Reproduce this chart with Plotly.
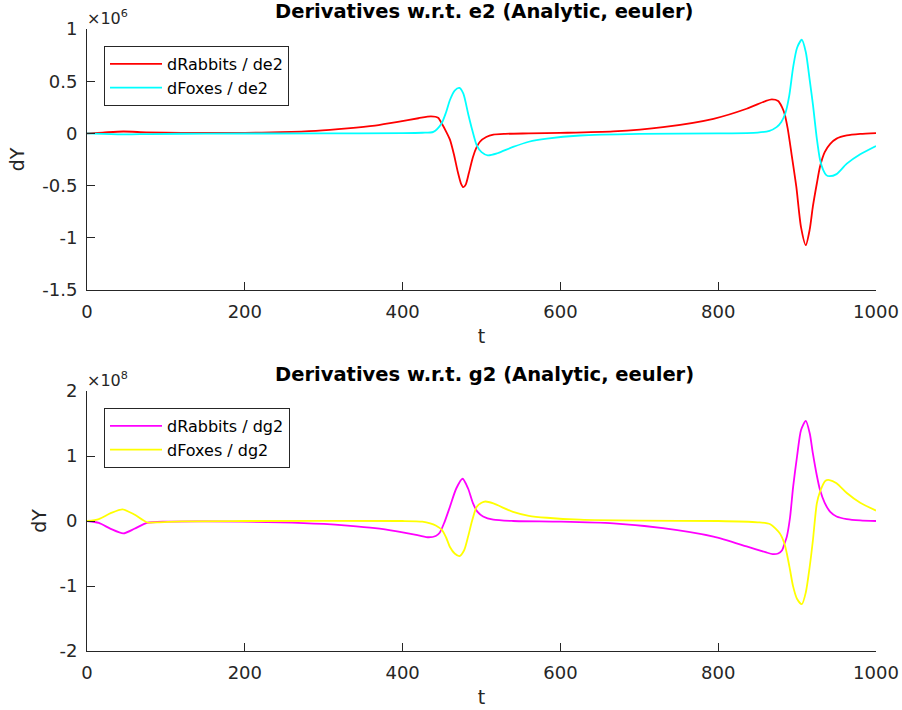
import plotly.graph_objects as go

# ---------------- data ----------------
# Top panel: derivatives w.r.t. e2, values in units of 1e6
t_rab_e2 = [0, 20, 46, 75, 120, 200, 245, 290, 330, 365, 394, 420, 436, 445, 450, 455, 460, 465, 470, 474,
            477, 480, 484, 489, 494, 498, 506, 515, 530, 560, 600, 667, 730, 794, 836, 860, 868, 876, 881,
            884, 888, 893, 899, 905, 911, 916, 920, 925, 929, 935, 942, 950, 963, 980, 1000]
v_rab_e2 = [0, 0.008, 0.018, 0.01, 0.004, 0.005, 0.012, 0.025, 0.048, 0.075, 0.11, 0.145, 0.163, 0.15, 0.09,
            0.02, -0.06, -0.2, -0.37, -0.48, -0.515, -0.49, -0.38, -0.23, -0.13, -0.08, -0.035, -0.012,
            -0.004, 0.0, 0.005, 0.019, 0.06, 0.14, 0.236, 0.31, 0.326, 0.31, 0.25, 0.19, 0.05, -0.2, -0.51,
            -0.9, -1.07, -0.92, -0.7, -0.48, -0.32, -0.18, -0.1, -0.05, -0.02, -0.005, 0.003]

t_fox_e2 = [0, 20, 50, 80, 150, 300, 400, 425, 439, 449, 455, 460, 466, 472, 477, 483, 488, 494, 500, 508,
            520, 540, 560, 583, 625, 700, 800, 850, 865, 874, 880, 885, 890, 895, 900, 906, 911, 916, 920,
            925, 929, 933, 937, 941, 950, 963, 980, 1000]
v_fox_e2 = [0, -0.005, -0.01, -0.006, -0.002, 0.0, 0.002, 0.006, 0.015, 0.09, 0.2, 0.32, 0.41, 0.435, 0.38,
            0.19, 0.04, -0.115, -0.18, -0.21, -0.19, -0.13, -0.08, -0.05, -0.02, -0.005, 0.0, 0.008, 0.025,
            0.06, 0.11, 0.19, 0.36, 0.635, 0.82, 0.897, 0.78, 0.51, 0.28, -0.05, -0.25, -0.35, -0.4, -0.41,
            -0.39, -0.29, -0.2, -0.12]

# Bottom panel: derivatives w.r.t. g2, values in units of 1e8
t_rab_g2 = [0, 15, 30, 46, 60, 76, 100, 150, 245, 300, 330, 365, 393, 420, 433, 442, 447, 453, 460, 468,
            476, 483, 489, 495, 502, 515, 540, 600, 667, 730, 794, 836, 860, 869, 876, 881, 884, 887, 891,
            895, 900, 905, 911, 916, 920, 925, 929, 935, 942, 950, 963, 980, 1000]
v_rab_g2 = [0, -0.03, -0.12, -0.19, -0.12, -0.03, -0.01, -0.005, -0.02, -0.045, -0.07, -0.11, -0.16, -0.22,
            -0.25, -0.23, -0.18, -0.02, 0.22, 0.5, 0.65, 0.5, 0.28, 0.14, 0.07, 0.02, 0.0, -0.01, -0.036,
            -0.11, -0.24, -0.39, -0.48, -0.51, -0.5, -0.45, -0.35, -0.24, 0.05, 0.53, 1.0, 1.4, 1.54, 1.35,
            1.04, 0.7, 0.48, 0.28, 0.14, 0.07, 0.03, 0.01, 0.0]

t_fox_g2 = [0, 15, 30, 45, 60, 76, 90, 120, 200, 400, 425, 435, 442, 450, 455, 460, 466, 472, 478, 483,
            488, 494, 500, 505, 515, 540, 560, 583, 625, 700, 800, 850, 866, 878, 884, 887, 891, 895, 900,
            906, 911, 916, 920, 925, 929, 936, 941, 950, 963, 980, 1000]
v_fox_g2 = [0, 0.03, 0.12, 0.18, 0.1, -0.02, -0.02, -0.005, 0.0, 0.0, -0.01, -0.036, -0.07, -0.14, -0.25,
            -0.4, -0.5, -0.54, -0.45, -0.24, 0.0, 0.22, 0.28, 0.3, 0.27, 0.14, 0.08, 0.05, 0.02, 0.005, 0.0,
            -0.02, -0.05, -0.19, -0.35, -0.5, -0.75, -1.01, -1.2, -1.28, -1.1, -0.7, -0.3, 0.27, 0.45, 0.62,
            0.63, 0.58, 0.43, 0.28, 0.16]

SCALE_TOP = 1e6
SCALE_BOT = 1e8

top_ticks = [-1.5, -1, -0.5, 0, 0.5, 1]
top_ticktext = ["-1.5", "-1", "-0.5", "0", "0.5", "1"]
bot_ticks = [-2, -1, 0, 1, 2]
bot_ticktext = ["-2", "-1", "0", "1", "2"]
x_ticks = [0, 200, 400, 600, 800, 1000]
x_ticktext = ["0", "200", "400", "600", "800", "1000"]

titles = ["Derivatives w.r.t. e2 (Analytic, eeuler)", "Derivatives w.r.t. g2 (Analytic, eeuler)"]

# ---------------- figure ----------------
W, H = 902, 710
AX = "#262626"
FONT = "DejaVu Sans"

def px_x(p):
    return p / W

def px_y(p):
    return 1 - p / H

fig = go.Figure()

line_kw = dict(shape="spline", smoothing=0.7, width=1.8)

fig.add_trace(go.Scatter(x=t_rab_e2, y=[v * SCALE_TOP for v in v_rab_e2], mode="lines",
                         name="dRabbits / de2", line=dict(color="#FF0000", **line_kw),
                         xaxis="x", yaxis="y", legend="legend"))
fig.add_trace(go.Scatter(x=t_fox_e2, y=[v * SCALE_TOP for v in v_fox_e2], mode="lines",
                         name="dFoxes / de2", line=dict(color="#00FFFF", **line_kw),
                         xaxis="x", yaxis="y", legend="legend"))
fig.add_trace(go.Scatter(x=t_rab_g2, y=[v * SCALE_BOT for v in v_rab_g2], mode="lines",
                         name="dRabbits / dg2", line=dict(color="#FF00FF", **line_kw),
                         xaxis="x2", yaxis="y2", legend="legend2"))
fig.add_trace(go.Scatter(x=t_fox_g2, y=[v * SCALE_BOT for v in v_fox_g2], mode="lines",
                         name="dFoxes / dg2", line=dict(color="#FFFF00", **line_kw),
                         xaxis="x2", yaxis="y2", legend="legend2"))

x_dom = [px_x(87), px_x(876)]
top_dom = [px_y(290), px_y(29)]
bot_dom = [px_y(651), px_y(391)]

common_ax = dict(showline=True, linecolor=AX, linewidth=1, ticks="inside", ticklen=8,
                 tickcolor=AX, tickwidth=1, showgrid=False, zeroline=False, mirror=False,
                 automargin=False,
                 tickfont=dict(family=FONT, size=18, color=AX), ticklabelstandoff=5)

xaxis_kw = dict(common_ax, range=[0, 1000], tickvals=x_ticks, ticktext=x_ticktext,
                title=dict(text="t", font=dict(family=FONT, size=19, color=AX), standoff=9))

legend_kw = dict(xanchor="left", yanchor="top", bordercolor=AX, borderwidth=1, bgcolor="white",
                 font=dict(family=FONT, size=16, color="black"), itemwidth=52, tracegroupgap=0)

fig.update_layout(
    width=W, height=H,
    margin=dict(l=0, r=0, t=0, b=0),
    paper_bgcolor="white", plot_bgcolor="white",
    showlegend=True,
    xaxis=dict(xaxis_kw, domain=x_dom, anchor="y"),
    yaxis=dict(common_ax, domain=top_dom, anchor="x", range=[-1.5 * SCALE_TOP, 1 * SCALE_TOP],
               tickvals=[v * SCALE_TOP for v in top_ticks], ticktext=top_ticktext,
               title=dict(text="dY", font=dict(family=FONT, size=19, color=AX), standoff=12)),
    xaxis2=dict(xaxis_kw, domain=x_dom, anchor="y2"),
    yaxis2=dict(common_ax, domain=bot_dom, anchor="x2", range=[-2 * SCALE_BOT, 2 * SCALE_BOT],
                tickvals=[v * SCALE_BOT for v in bot_ticks], ticktext=bot_ticktext,
                title=dict(text="dY", font=dict(family=FONT, size=19, color=AX), standoff=7)),
    legend=dict(legend_kw, x=px_x(104), y=px_y(46)),
    legend2=dict(legend_kw, x=px_x(104), y=px_y(408)),
)

annotations = []
for title, ycen in zip(titles, [12, 374]):
    annotations.append(dict(text="<b>" + title + "</b>", x=px_x(484), y=px_y(ycen),
                            xref="paper", yref="paper", xanchor="center", yanchor="middle",
                            showarrow=False, font=dict(family=FONT, size=19.5, color="black")))
for expo, ytop in zip(["6", "8"], [29, 391]):
    annotations.append(dict(text="×10<sup>" + expo + "</sup>", x=px_x(85), y=px_y(ytop + 1),
                            xref="paper", yref="paper", xanchor="left", yanchor="bottom",
                            showarrow=False, font=dict(family=FONT, size=16, color=AX)))
fig.update_layout(annotations=annotations)

fig.write_html("out.html", config={"displayModeBar": False},
               post_script="document.body.style.margin='0px';document.body.style.overflow='hidden';")
